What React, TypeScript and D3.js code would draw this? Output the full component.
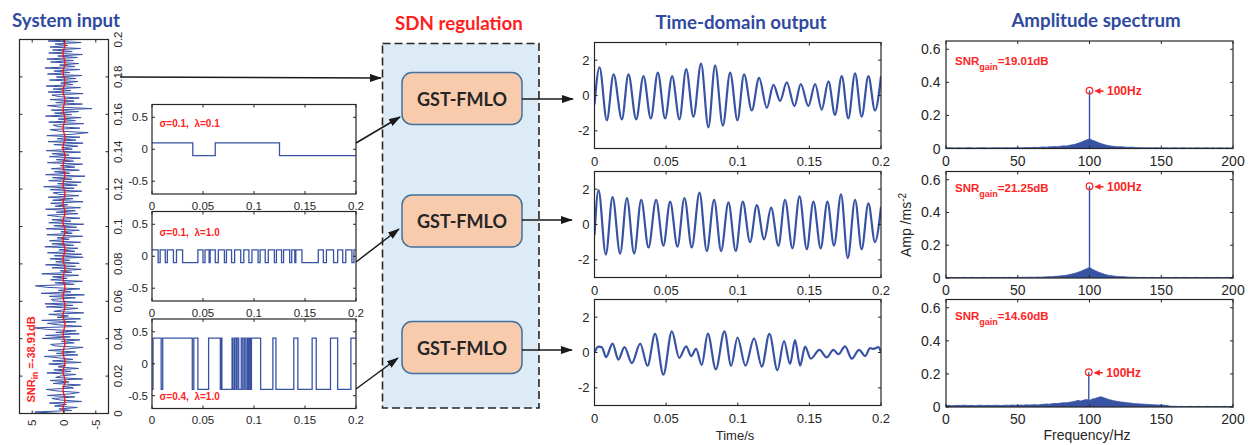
import React from 'react';
import * as d3 from 'd3';

// ---------------- data ----------------
const inputNoise = [
  0.5, 4.6, -1.2, 0.8, -2.1, 1.5, -0.4, 2.3, -2.8, 0.6,
  1.9, -1.7, 2.6, -0.9, -2.4, 1.1, 2.8, -1.5, 0.3, -2.6,
  1.7, -0.8, 2.2, -2.9, 1.3, 0.5, -1.9, 2.7, -1.1, 1.6,
  -2.3, 0.9, -0.3, 2.4, -2.7, 1.8, -1.4, 0.7, 3.1, -2.2,
  1.2, -1.8, 2.5, -0.6, -3.0, 1.4, 2.1, -1.6, 0.4, -2.5,
  3.4, -1.0, 2.9, -2.4, 1.3, -1.9, 2.6, 4.8, -2.8, 0.8,
  2.6, -1.9, 3.5, -2.6, 1.1, -0.7, 2.4, -3.1, 1.6, 0.2,
  -2.2, 2.8, -1.4, 3.0, -2.9, 1.7, 2.0, -1.8, 2.3, -3.2,
  3.6, -1.1, 0.9, -2.5, 2.7, 4.5, -1.6, 1.4, -2.9, 2.1,
  -0.5, 1.8, -2.3, 3.5, -1.2, 0.6, -2.7, 1.9, -1.8, 2.9,
  -2.4, 1.3, -0.9, 2.2, -3.0, 1.5, -2.8, 2.6, -1.7, 0.8,
  -2.2, 3.0, -1.5, 1.9, -2.6, 2.3, -0.8, 1.1, -2.9, 2.7,
  -1.3, 0.5, -2.4, 2.8, -2.0, 1.6, -3.1, 2.4, -1.1, 1.9,
  -2.5, 0.7, 2.6, -2.2, 1.2, -1.8, 2.9, -2.6, 1.4, -0.6,
  2.1, -3.0, 1.8, -1.4, 2.5, -2.3, 0.9, 1.7, -2.8, 2.2,
  -1.6, 3.2, -2.1, 1.0, -2.7, 2.4, -1.2, 1.8, -3.3, 2.9,
  -0.9, 1.5, -2.4, 2.0, -1.7, 0.6, -2.9, 2.6, -1.5, 1.2,
  -2.6, 2.3, -0.8, 1.9, -2.6, 2.8, -1.3, 0.4, -2.2, 1.6,
  -3.0, 2.5, -1.9, 1.1, -2.5, 2.7, -1.6, -3.8, 0.8, 2.2,
  -2.5, 1.0, 1.7, -3.1, 2.4, -1.8, 0.9, -2.7, 2.9, -1.2,
  1.5, -2.3, 2.0, -4.4, 0.7, 2.6, -2.9, 1.3, -1.6, 2.2,
  -2.4, 0.8, 1.9, -3.0, 2.5, -1.1, 1.7, -2.6, 2.8, -1.4,
  0.5, -2.2, 2.3, -1.9, 1.2, -2.8, 2.6, -0.9, 1.6, -2.5,
  3.0, -1.7, 0.7, -2.3, 2.1, -1.5, 2.7, -2.1, 1.0, -2.9,
  2.4, -1.3, 1.8, -2.6, 2.2, -0.6, 1.4, -2.7, 2.5, -1.8,
];
// clean 100 Hz component: extrema every half period (0.005 s), starting at 0.0025 s
const cleanExtrema = [
  0.15, -0.15, 0.15, -0.15, 0.15, -0.15, 0.15, -0.15, 0.15, -0.15,
  0.15, -0.15, 0.15, -0.15, 0.15, -0.15, 0.15, -0.15, 0.15, -0.15,
  0.15, -0.15, 0.15, -0.15, 0.15, -0.15, 0.15, -0.15, 0.15, -0.15,
  0.15, -0.15, 0.15, -0.15, 0.15, -0.15, 0.15, -0.15, 0.15, -0.15,
];
const snrIn = ' =-38.91dB';

const inputTimeTicks = [0, 0.02, 0.04, 0.06, 0.08, 0.1, 0.12, 0.14, 0.16, 0.18, 0.2];
const inputTimeLabels = ['0', '0.02', '0.04', '0.06', '0.08', '0.1', '0.12', '0.14', '0.16', '0.18', '0.2'];
const inputAmpTicks = [5, 0, -5];
const inputAmpLabels = ['5', '0', '-5'];

const timeTicks = [0, 0.05, 0.1, 0.15, 0.2];
const timeLabels = ['0', '0.05', '0.1', '0.15', '0.2'];
const switchYTicks = [-0.5, 0, 0.5];
const switchYLabels = ['-0.5', '0', '0.5'];
const outYTicks = [-2, 0, 2];
const outYLabels = ['-2', '0', '2'];
const specXTicks = [0, 50, 100, 150, 200];
const specXLabels = ['0', '50', '100', '150', '200'];
const specYTicks = [0, 0.2, 0.4, 0.6];
const specYLabels = ['0', '0.2', '0.4', '0.6'];

// switching (SDN) signals: toggle times, starting sign and amplitude
const sw1Toggles = [0.04, 0.062, 0.125];
const sw2Toggles = [
  0.006, 0.008, 0.013, 0.015, 0.021, 0.024, 0.030, 0.045, 0.050, 0.052,
  0.056, 0.057, 0.062, 0.065, 0.071, 0.073, 0.078, 0.081, 0.087, 0.090,
  0.095, 0.098, 0.104, 0.106, 0.111, 0.114, 0.120, 0.122, 0.127, 0.129,
  0.135, 0.137, 0.140, 0.141, 0.147, 0.163, 0.168, 0.171, 0.178, 0.182,
  0.187, 0.190, 0.196, 0.198,
];
const sw3Toggles = [
  0.001, 0.009, 0.0105, 0.0395, 0.041, 0.045, 0.0555, 0.067, 0.068, 0.0685,
  0.0785, 0.0795, 0.081, 0.0825, 0.0835, 0.085, 0.0875, 0.089, 0.0905, 0.092,
  0.0935, 0.0945, 0.0955, 0.0965, 0.0975, 0.1065, 0.1185, 0.1215, 0.139, 0.143,
  0.157, 0.161, 0.175, 0.182, 0.195,
];
const switchStart = [1, 1, -1];
const switchAmp = [0.1, 0.1, 0.4];
const switchSigma = ['0.1', '0.1', '0.4'];
const switchLambda = ['0.1', '1.0', '1.0'];

// time-domain outputs: [time, value] at extrema
const out1 = [
  [0, -0.5], [0.0035, 1.6], [0.0086, -1.4], [0.0133, 1.2], [0.0191, -1.35], [0.0237, 1.2],
  [0.0291, -1.35], [0.0342, 1.1], [0.0393, -1.3], [0.0442, 1.3], [0.0493, -1.3], [0.0542, 1.1],
  [0.0593, -1.35], [0.064, 1.5], [0.0691, -1.2], [0.0744, 1.8], [0.0795, -1.8], [0.0842, 1.7],
  [0.0896, -1.7], [0.0947, 1.3], [0.0998, -1.4], [0.1044, 1.2], [0.1098, -0.85], [0.1149, 1.0],
  [0.1203, -0.7], [0.1249, 0.6], [0.1296, -0.3], [0.1342, 0.75], [0.1396, -0.6], [0.144, 0.65],
  [0.1493, -0.6], [0.154, 0.65], [0.1586, -0.8], [0.1633, 0.8], [0.1679, -1.1], [0.1726, 1.1],
  [0.1772, -1.3], [0.1819, 1.25], [0.1865, -1.2], [0.1912, 1.1], [0.1958, -0.85], [0.2, 1.1],
];
const out2 = [
  [0, -0.6], [0.0028, 1.95], [0.0079, -1.7], [0.0126, 1.55], [0.0179, -1.65], [0.0226, 1.5],
  [0.0277, -1.65], [0.0326, 1.4], [0.0377, -1.3], [0.043, 1.4], [0.0481, -1.2], [0.0528, 1.3],
  [0.0579, -1.25], [0.0628, 1.5], [0.0679, -1.3], [0.0733, 1.8], [0.0784, -1.5], [0.0835, 1.4],
  [0.0884, -1.5], [0.0935, 1.25], [0.0986, -1.5], [0.1035, 1.3], [0.1086, -1.0], [0.1133, 1.1],
  [0.1184, -0.85], [0.1233, 0.95], [0.1284, -1.2], [0.133, 1.4], [0.1382, -1.35], [0.1431, 1.6],
  [0.1482, -1.4], [0.1528, 1.3], [0.1579, -1.35], [0.1626, 1.3], [0.1672, -1.2], [0.1721, 1.7],
  [0.1768, -1.9], [0.1819, 1.4], [0.1865, -1.4], [0.1912, 1.2], [0.1958, -1.0], [0.2, 1.0],
];
const out3 = [
  [0, 0], [0.0028, 0.33], [0.0051, 0.3], [0.0081, -0.26], [0.0126, 0.5], [0.0167, -0.4],
  [0.0209, 0.3], [0.0261, -0.6], [0.0319, 0.5], [0.037, -0.75], [0.0423, 1.05], [0.0481, -1.25],
  [0.054, 1.2], [0.0591, -0.3], [0.064, 0.35], [0.0675, -0.2], [0.0709, 0.2], [0.0749, -0.7],
  [0.0791, 1.07], [0.0847, -0.95], [0.0907, 1.2], [0.0954, -0.75], [0.0998, 0.85], [0.1054, -0.75],
  [0.1114, 0.8], [0.1168, -0.8], [0.1221, 1.05], [0.1277, -1.0], [0.1323, 0.65], [0.1365, -0.65],
  [0.14, 0.7], [0.1435, -0.75], [0.147, 0.33], [0.151, -0.35], [0.157, 0.15], [0.1621, -0.27],
  [0.1668, 0.15], [0.1703, -0.1], [0.1749, 0.35], [0.1796, -0.35], [0.1847, 0.15], [0.1889, -0.2],
  [0.1924, 0.25], [0.1947, 0.2], [0.1982, 0.3], [0.2, 0],
];

// amplitude spectra: 0..200 Hz every 2 Hz
const spec1 = [
  0.005, 0.004, 0.004, 0.003, 0.004, 0.004, 0.003, 0.004, 0.005, 0.004,
  0.003, 0.004, 0.004, 0.005, 0.004, 0.003, 0.004, 0.004, 0.005, 0.004,
  0.004, 0.005, 0.004, 0.004, 0.005, 0.005, 0.004, 0.005, 0.006, 0.005,
  0.006, 0.007, 0.006, 0.008, 0.009, 0.008, 0.010, 0.011, 0.012, 0.011,
  0.014, 0.016, 0.015, 0.019, 0.022, 0.026, 0.031, 0.038, 0.045, 0.052,
  0.058,
  0.050, 0.044, 0.036, 0.030, 0.024, 0.020, 0.016, 0.014, 0.012, 0.010,
  0.011, 0.009, 0.008, 0.007, 0.008, 0.006, 0.005, 0.005, 0.004, 0.005,
  0.004, 0.004, 0.005, 0.004, 0.003, 0.004, 0.004, 0.003, 0.004, 0.004,
  0.003, 0.004, 0.004, 0.003, 0.004, 0.003, 0.004, 0.004, 0.003, 0.004,
  0.004, 0.003, 0.004, 0.003, 0.004, 0.004, 0.003, 0.004, 0.003, 0.004,
];
const spec2 = [
  0.003, 0.003, 0.004, 0.003, 0.003, 0.003, 0.004, 0.003, 0.003, 0.004,
  0.003, 0.003, 0.003, 0.004, 0.003, 0.003, 0.004, 0.003, 0.004, 0.003,
  0.004, 0.003, 0.004, 0.004, 0.003, 0.004, 0.004, 0.005, 0.004, 0.005,
  0.005, 0.004, 0.006, 0.005, 0.006, 0.007, 0.008, 0.008, 0.010, 0.011,
  0.013, 0.015, 0.017, 0.021, 0.025, 0.029, 0.035, 0.041, 0.049, 0.057,
  0.064,
  0.054, 0.045, 0.037, 0.030, 0.024, 0.019, 0.016, 0.013, 0.011, 0.009,
  0.008, 0.008, 0.006, 0.005, 0.005, 0.004, 0.004, 0.003, 0.004, 0.003,
  0.003, 0.004, 0.003, 0.003, 0.003, 0.004, 0.003, 0.003, 0.003, 0.004,
  0.003, 0.003, 0.004, 0.003, 0.003, 0.003, 0.004, 0.003, 0.003, 0.003,
  0.004, 0.003, 0.003, 0.003, 0.004, 0.003, 0.003, 0.004, 0.003, 0.003,
];
const spec3 = [
  0.009, 0.010, 0.008, 0.009, 0.010, 0.009, 0.011, 0.010, 0.009, 0.010,
  0.008, 0.010, 0.011, 0.009, 0.010, 0.010, 0.009, 0.011, 0.010, 0.009,
  0.010, 0.011, 0.010, 0.012, 0.011, 0.010, 0.012, 0.011, 0.013, 0.012,
  0.013, 0.014, 0.012, 0.015, 0.016, 0.018, 0.017, 0.020, 0.022, 0.021,
  0.024, 0.026, 0.025, 0.028, 0.031, 0.035, 0.040, 0.036, 0.042, 0.045,
  0.040,
  0.048, 0.052, 0.058, 0.062, 0.056, 0.050, 0.044, 0.040, 0.036, 0.033,
  0.030, 0.028, 0.026, 0.024, 0.022, 0.020, 0.019, 0.018, 0.017, 0.016,
  0.015, 0.014, 0.013, 0.012, 0.012, 0.011, 0.010, 0.005, 0.004, 0.004,
  0.003, 0.004, 0.003, 0.003, 0.004, 0.003, 0.003, 0.004, 0.003, 0.003,
  0.004, 0.003, 0.003, 0.004, 0.003, 0.003, 0.004, 0.003, 0.003, 0.004,
];
const specPeakFreq = [100, 100, 99.5];
const specPeakAmp = [0.35, 0.56, 0.21];
const snrGain = ['=19.01dB', '=21.25dB', '=14.60dB'];

// ---------------- styling ----------------
const BLUE = '#3853a4';
const RED = '#ff2424';
const TITLE_BLUE = '#2f4a9f';
const AXIS = '#262626';
const FONT = '"Liberation Sans", Arial, Helvetica, sans-serif';
const TITLE_FONT = 'Lato, "Open Sans", sans-serif';

type AxesProps = {
  id: string; w: number; h: number;
  xs: d3.ScaleLinear<number, number>; ys: d3.ScaleLinear<number, number>;
  xTicks: number[]; xLabels: string[]; yTicks: number[]; yLabels: string[];
  fs: number; xLabOff: number; yLabGap: number;
  children?: React.ReactNode;
};

function Axes(p: AxesProps) {
  const tl = 3;
  return (
    <g>
      <rect width={p.w} height={p.h} fill="#fff" />
      <clipPath id={p.id}><rect width={p.w} height={p.h} /></clipPath>
      <g clipPath={`url(#${p.id})`}>{p.children}</g>
      <g stroke={AXIS} strokeWidth={1}>
        {p.xTicks.map((t, i) => (
          <g key={'x' + i}>
            <line x1={p.xs(t)} x2={p.xs(t)} y1={p.h} y2={p.h - tl} />
            <line x1={p.xs(t)} x2={p.xs(t)} y1={0} y2={tl} />
          </g>
        ))}
        {p.yTicks.map((t, i) => (
          <g key={'y' + i}>
            <line x1={0} x2={tl} y1={p.ys(t)} y2={p.ys(t)} />
            <line x1={p.w} x2={p.w - tl} y1={p.ys(t)} y2={p.ys(t)} />
          </g>
        ))}
      </g>
      <rect width={p.w} height={p.h} fill="none" stroke={AXIS} strokeWidth={1.2} />
      <g fontSize={p.fs} fill="#262626" fontFamily={FONT}>
        {p.xTicks.map((t, i) => (
          <text key={'xl' + i} x={p.xs(t)} y={p.h + p.xLabOff} textAnchor="middle">{p.xLabels[i]}</text>
        ))}
        {p.yTicks.map((t, i) => (
          <text key={'yl' + i} x={-p.yLabGap} y={p.ys(t)} textAnchor="end" dominantBaseline="central">{p.yLabels[i]}</text>
        ))}
      </g>
    </g>
  );
}

function InputPanel() {
  const left = 19.5, top = 39.5, right = 108.5, bottom = 413.5;
  const W = bottom - top, H = right - left;
  const xs = d3.scaleLinear().domain([0, 0.2]).range([0, W]);
  const ys = d3.scaleLinear().domain([7, -7]).range([0, H]);
  const n = inputNoise.length;
  const noisePath = d3.line<number>().x((_, i) => xs((i * 0.2) / (n - 1))).y((d) => ys(d))(inputNoise) || '';
  const cleanPts: [number, number][] = [[0, 0], ...cleanExtrema.map((v, i) => [0.0025 + 0.005 * i, v] as [number, number]), [0.2, 0]];
  const cleanPath = d3.line<[number, number]>().x((d) => xs(d[0])).y((d) => ys(d[1])).curve(d3.curveMonotoneX)(cleanPts) || '';
  return (
    <g transform={`translate(${left},${bottom}) rotate(-90)`}>
      <Axes id="clipIn" w={W} h={H} xs={xs} ys={ys} xTicks={inputTimeTicks} xLabels={inputTimeLabels}
        yTicks={inputAmpTicks} yLabels={inputAmpLabels} fs={11.5} xLabOff={13} yLabGap={6}>
        <path d={noisePath} fill="none" stroke={BLUE} strokeWidth={1} />
        <path d={cleanPath} fill="none" stroke="#ff1010" strokeWidth={1.3} />
      </Axes>
      <text x={11} y={15.5} fill={RED} fontSize={11} fontWeight="bold" fontFamily={FONT} style={{ whiteSpace: 'pre' }}>
        SNR<tspan fontSize={8.5} dy={3}>in</tspan><tspan dy={-3}>{snrIn}</tspan>
      </text>
    </g>
  );
}

function stepPoints(toggles: number[], start: number, amp: number): [number, number][] {
  let lvl = start * amp;
  const pts: [number, number][] = [[0, lvl]];
  toggles.forEach((t) => {
    pts.push([t, lvl]);
    lvl = -lvl;
    pts.push([t, lvl]);
  });
  pts.push([0.2, lvl]);
  return pts;
}

const switchToggles = [sw1Toggles, sw2Toggles, sw3Toggles];

function SwitchPanel({ i, top }: { i: number; top: number }) {
  const x0 = 152, w = 204, h = 89.5;
  const xs = d3.scaleLinear().domain([0, 0.2]).range([0, w]);
  const ys = d3.scaleLinear().domain([-0.7, 0.7]).range([h, 0]);
  const pts = stepPoints(switchToggles[i], switchStart[i], switchAmp[i]);
  const path = d3.line<[number, number]>().x((d) => xs(d[0])).y((d) => ys(d[1]))(pts) || '';
  const labelY = i === 2 ? h - 9 : i === 0 ? 22.7 : 24;
  return (
    <g transform={`translate(${x0},${top})`}>
      <Axes id={'clipSw' + i} w={w} h={h} xs={xs} ys={ys} xTicks={timeTicks} xLabels={timeLabels}
        yTicks={switchYTicks} yLabels={switchYLabels} fs={11.5} xLabOff={15.7} yLabGap={4}>
        <path d={path} fill="none" stroke={BLUE} strokeWidth={1.3} />
      </Axes>
      <text x={7.5} y={labelY} fill={RED} fontSize={10} fontWeight="bold" fontFamily={FONT} style={{ whiteSpace: 'pre' }}>
        {`σ=${switchSigma[i]},  λ=${switchLambda[i]}`}
      </text>
    </g>
  );
}

const outs = [out1, out2, out3];

function TimePanel({ i, top }: { i: number; top: number }) {
  const x0 = 594.5, w = 286.5, h = 106;
  const xs = d3.scaleLinear().domain([0, 0.2]).range([0, w]);
  const ys = d3.scaleLinear().domain([-3, 3]).range([h, 0]);
  const path = d3.line<number[]>().x((d) => xs(d[0])).y((d) => ys(d[1])).curve(d3.curveMonotoneX)(outs[i]) || '';
  return (
    <g transform={`translate(${x0},${top})`}>
      <Axes id={'clipT' + i} w={w} h={h} xs={xs} ys={ys} xTicks={timeTicks} xLabels={timeLabels}
        yTicks={outYTicks} yLabels={outYLabels} fs={13} xLabOff={17.5} yLabGap={5}>
        <path d={path} fill="none" stroke={BLUE} strokeWidth={2.2} strokeLinejoin="round" />
      </Axes>
    </g>
  );
}

const specs = [spec1, spec2, spec3];

function SpecPanel({ i, top, h }: { i: number; top: number; h: number }) {
  const x0 = 946, w = 287;
  const xs = d3.scaleLinear().domain([0, 200]).range([0, w]);
  const ys = d3.scaleLinear().domain([0, 0.65]).range([h, 0]);
  const data = specs[i];
  const area = d3.area<number>().x((_, k) => xs(k * 2)).y0(ys(0)).y1((d) => ys(d))(data) || '';
  const pf = specPeakFreq[i], pa = specPeakAmp[i];
  const cx = xs(pf), cy = ys(pa);
  const snrY = i === 0 ? 24.3 : 20;
  return (
    <g transform={`translate(${x0},${top})`}>
      <Axes id={'clipS' + i} w={w} h={h} xs={xs} ys={ys} xTicks={specXTicks} xLabels={specXLabels}
        yTicks={specYTicks} yLabels={specYLabels} fs={14} xLabOff={17} yLabGap={5.5}>
        <path d={area} fill={BLUE} stroke={BLUE} strokeWidth={0.8} />
        <line x1={cx} x2={cx} y1={ys(0)} y2={cy} stroke={BLUE} strokeWidth={1.4} />
      </Axes>
      <circle cx={cx} cy={cy} r={3.3} fill="none" stroke={RED} strokeWidth={1.2} />
      <line x1={cx + 14} x2={cx + 6} y1={cy + 0.5} y2={cy + 0.5} stroke={RED} strokeWidth={1.6} markerEnd="url(#redHead)" />
      <text x={cx + 17.5} y={cy + 4.5} fill={RED} fontSize={12} fontWeight="bold" fontFamily={FONT}>100Hz</text>
      <text x={9} y={snrY} fill={RED} fontSize={11.5} fontWeight="bold" fontFamily={FONT}>
        SNR<tspan fontSize={9} dy={5}>gain</tspan><tspan dy={-5}>{snrGain[i]}</tspan>
      </text>
    </g>
  );
}

function Arrow({ x1, y1, x2, y2 }: { x1: number; y1: number; x2: number; y2: number }) {
  return <line x1={x1} y1={y1} x2={x2} y2={y2} stroke="#1a1a1a" strokeWidth={1.5} markerEnd="url(#blackHead)" />;
}

export default function App() {
  const boxTops = [72.5, 195, 321.5];
  const timeTops = [42.5, 171.5, 299.5];
  const specTops = [41, 171.5, 299.5];
  const specHs = [107.5, 106.5, 107.5];
  const switchTops = [104.5, 211.5, 319];
  return (
    <svg width={1248} height={445} style={{ position: 'absolute', left: 0, top: 0, background: '#fff' }}>
      <defs>
        <marker id="blackHead" viewBox="0 0 12 8" refX={11} refY={4} markerWidth={12} markerHeight={8}
          markerUnits="userSpaceOnUse" orient="auto">
          <path d="M0,0 L12,4 L0,8 z" fill="#1a1a1a" />
        </marker>
        <marker id="redHead" viewBox="0 0 6 6" refX={5} refY={3} markerWidth={6} markerHeight={6}
          markerUnits="userSpaceOnUse" orient="auto">
          <path d="M0,0 L6,3 L0,6 z" fill={RED} />
        </marker>
      </defs>
      <rect width={1248} height={445} fill="#fff" />

      {/* titles */}
      <g fontFamily={TITLE_FONT} fontWeight="bold" fontSize={18.7}>
        <text x={66} y={26.5} textAnchor="middle" fill={TITLE_BLUE}>System input</text>
        <text x={459} y={30} textAnchor="middle" fill="#ff2020">SDN regulation</text>
        <text x={741} y={29} textAnchor="middle" fill={TITLE_BLUE}>Time-domain output</text>
        <text x={1096} y={26.5} textAnchor="middle" fill={TITLE_BLUE}>Amplitude spectrum</text>
      </g>

      <InputPanel />

      {/* SDN box */}
      <rect x={382.5} y={43.5} width={156.5} height={364.5} fill="#ddebf7" stroke="#262626" strokeWidth={1.6} strokeDasharray="8 4" />
      {boxTops.map((t, i) => (
        <g key={'box' + i}>
          <rect x={402} y={t} width={120} height={52} rx={10} fill="#f8cbad" stroke="#41719c" strokeWidth={1.5} />
          <text x={462} y={t + 26} textAnchor="middle" dominantBaseline="central" fontFamily={TITLE_FONT}
            fontWeight="bold" fontSize={18} fill="#262626">GST-FMLO</text>
        </g>
      ))}

      {switchTops.map((t, i) => <SwitchPanel key={'sw' + i} i={i} top={t} />)}
      {timeTops.map((t, i) => <TimePanel key={'tp' + i} i={i} top={t} />)}
      {specTops.map((t, i) => <SpecPanel key={'sp' + i} i={i} top={t} h={specHs[i]} />)}

      {/* arrows */}
      <Arrow x1={120} y1={77} x2={381} y2={78} />
      <Arrow x1={356} y1={143} x2={400} y2={117} />
      <Arrow x1={356} y1={262} x2={399} y2={229} />
      <Arrow x1={356} y1={389} x2={398} y2={358} />
      <Arrow x1={522} y1={99} x2={573} y2={99} />
      <Arrow x1={522} y1={220} x2={572} y2={220} />
      <Arrow x1={522} y1={350} x2={572} y2={350} />

      {/* axis titles */}
      <g fontFamily={FONT} fill="#262626">
        <text x={735} y={440} textAnchor="middle" fontSize={13}>Time/s</text>
        <text x={1087} y={440} textAnchor="middle" fontSize={14}>Frequency/Hz</text>
        <text transform="translate(911,225) rotate(-90)" textAnchor="middle" fontSize={14}>
          Amp /ms<tspan fontSize={10} dy={-5}>-2</tspan>
        </text>
      </g>
    </svg>
  );
}
